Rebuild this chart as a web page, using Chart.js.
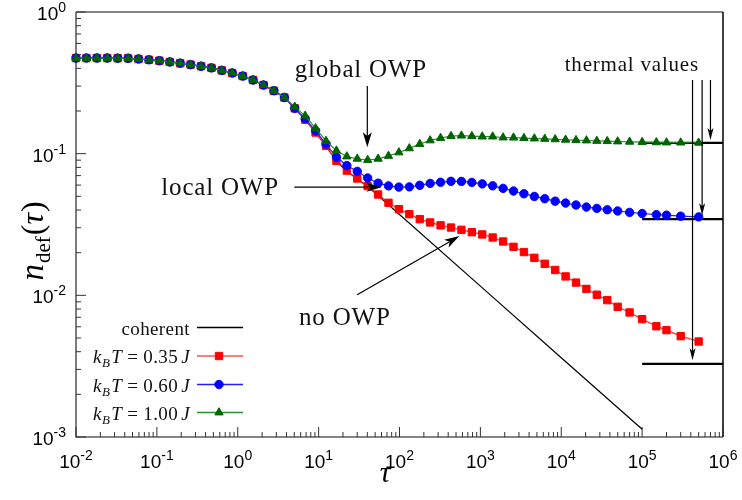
<!DOCTYPE html>
<html>
<head>
<meta charset="utf-8">
<script src="https://cdn.jsdelivr.net/npm/chart.js@4.4.1/dist/chart.umd.min.js"></script>
<style>
  html, body { margin: 0; padding: 0; background: #fff; }
  #wrap { width: 742px; height: 500px; }
</style>
</head>
<body>
<div id="wrap"><canvas id="c" width="742" height="500"></canvas></div>
<script>
// quench time grid
const tau = [0.01, 0.01345, 0.0181, 0.02434, 0.03275, 0.04406, 0.05928, 0.07975, 0.1073, 0.1443,
  0.1941, 0.2612, 0.3513, 0.4727, 0.6359, 0.8551, 1.150, 1.547, 2.082, 2.801,
  3.767, 5.068, 6.818, 9.172, 12.34, 16.60, 22.33, 30.04, 40.41, 54.36,
  73.11, 98.36, 132.3, 178.0, 239.4, 322.1, 433.4, 583.1, 784.4, 1055,
  1419, 1909, 2568, 3455, 4648, 6252, 8411, 11316, 15223, 20480,
  27542, 37050, 49840, 70000, 100000, 150000, 200000, 300000, 500000];

// defect density, kB T = 0.35 J
const nT035 = [0.473, 0.473, 0.473, 0.473, 0.472, 0.471, 0.466, 0.460, 0.453, 0.444,
  0.435, 0.425, 0.414, 0.403, 0.387, 0.371, 0.353, 0.331, 0.305, 0.278,
  0.249, 0.209, 0.174, 0.141, 0.1135, 0.0891, 0.0759, 0.0668, 0.0590, 0.0515,
  0.0450, 0.0406, 0.0374, 0.0345, 0.0327, 0.0312, 0.0301, 0.0290, 0.0279, 0.0269,
  0.0256, 0.0240, 0.0220, 0.0202, 0.0184, 0.0167, 0.0151, 0.0136, 0.0123, 0.0111,
  0.0101, 0.00925, 0.00830, 0.00757, 0.00679, 0.00605, 0.00568, 0.00515, 0.00472];

// defect density, kB T = 0.60 J
const nT060 = [0.473, 0.473, 0.473, 0.473, 0.472, 0.471, 0.466, 0.460, 0.453, 0.444,
  0.435, 0.425, 0.414, 0.403, 0.387, 0.371, 0.353, 0.331, 0.305, 0.278,
  0.249, 0.209, 0.176, 0.145, 0.117, 0.0946, 0.0824, 0.0750, 0.0673, 0.0619,
  0.0592, 0.0581, 0.0583, 0.0598, 0.0617, 0.0628, 0.0638, 0.0637, 0.0627, 0.0612,
  0.0593, 0.0569, 0.0545, 0.0521, 0.0499, 0.0481, 0.0462, 0.0448, 0.0434, 0.0420,
  0.0411, 0.0402, 0.0394, 0.0385, 0.0378, 0.0371, 0.0368, 0.0362, 0.0358];

// defect density, kB T = 1.00 J
const nT100 = [0.473, 0.473, 0.473, 0.473, 0.472, 0.471, 0.466, 0.460, 0.453, 0.444,
  0.435, 0.425, 0.414, 0.403, 0.387, 0.371, 0.353, 0.331, 0.305, 0.278,
  0.249, 0.214, 0.185, 0.151, 0.123, 0.105, 0.0955, 0.0920, 0.0902, 0.0920,
  0.0964, 0.102, 0.109, 0.117, 0.124, 0.129, 0.133, 0.134, 0.133, 0.132,
  0.132, 0.130, 0.1297, 0.1288, 0.1279, 0.1271, 0.1262, 0.1253, 0.1245, 0.1239,
  0.1230, 0.1225, 0.1219, 0.1213, 0.1208, 0.1202, 0.1199, 0.1197, 0.1194];

// coherent (zero temperature) evolution
const tauCoherent = [0.01, 0.01345, 0.0181, 0.02434, 0.03275, 0.04406, 0.05928, 0.07975, 0.1073, 0.1443,
  0.1941, 0.2612, 0.3513, 0.4727, 0.6359, 0.8551, 1.150, 1.547, 2.082, 2.801,
  3.767, 5.068, 6.818, 9.172, 12.34, 16.60, 22.33, 30.04, 40.41, 54.36,
  73.11, 1000, 10000, 100000];
const nCoherent = [0.473, 0.473, 0.473, 0.473, 0.472, 0.471, 0.466, 0.460, 0.453, 0.444,
  0.435, 0.425, 0.414, 0.403, 0.387, 0.371, 0.353, 0.331, 0.305, 0.278,
  0.249, 0.209, 0.174, 0.141, 0.1135, 0.0881, 0.0750, 0.0661, 0.0586, 0.0506,
  0.0436, 0.01161, 0.00363, 0.001135];

// thermal equilibrium values (0.35 J, 0.60 J, 1.00 J)
const thermalTau = [1e5, 1e6];
const thermalN = [0.00328, 0.0345, 0.119];

const temperatures = ['0.35', '0.60', '1.00'];
const xTickExps = [-2, -1, 0, 1, 2, 3, 4, 5, 6];
const yTickExps = [-3, -2, -1, 0];

const SERIF = '"Liberation Serif", "DejaVu Serif", serif';
const SANS = '"Liberation Sans", Arial, sans-serif';

const pts = (xs, ys) => xs.map((v, i) => ({ x: v, y: ys[i] }));

// ---- rich text helpers -------------------------------------------------
function runsWidth(ctx, runs) {
  let w = 0;
  for (const r of runs) { ctx.font = r.font; w += ctx.measureText(r.text).width + (r.gap || 0); }
  return w;
}
function drawRuns(ctx, runs, x, y, align) {
  const w = runsWidth(ctx, runs);
  let cx = align === 'right' ? x - w : align === 'center' ? x - w / 2 : x;
  ctx.textAlign = 'left';
  ctx.textBaseline = 'alphabetic';
  for (const r of runs) {
    ctx.font = r.font;
    ctx.fillText(r.text, cx, y + (r.dy || 0));
    cx += ctx.measureText(r.text).width + (r.gap || 0);
  }
}
function powRuns(e) {
  return [
    { text: '10', font: `19px ${SANS}` },
    { text: String(e), font: `14px ${SANS}`, dy: -8 }
  ];
}
function kbtRuns(val) {
  const f = 19;
  return [
    { text: 'k', font: `italic ${f}px ${SERIF}` },
    { text: 'B', font: `italic 13px ${SERIF}`, dy: 4, gap: 1 },
    { text: 'T', font: `italic ${f}px ${SERIF}`, gap: 5 },
    { text: '=', font: `${f}px ${SERIF}`, gap: 5 },
    { text: val, font: `${f}px ${SERIF}`, gap: 3 },
    { text: 'J', font: `italic ${f}px ${SERIF}` }
  ];
}

function drawArrow(ctx, x1, y1, x2, y2, L, W) {
  const ang = Math.atan2(y2 - y1, x2 - x1);
  const ux = Math.cos(ang), uy = Math.sin(ang), nx = -uy, ny = ux;
  const N = L * 0.25;
  ctx.strokeStyle = '#000';
  ctx.fillStyle = '#000';
  ctx.lineWidth = 1.2;
  ctx.beginPath();
  ctx.moveTo(x1, y1);
  ctx.lineTo(x2 - ux * (L - N), y2 - uy * (L - N));
  ctx.stroke();
  ctx.beginPath();
  ctx.moveTo(x2, y2);
  ctx.lineTo(x2 - ux * L + nx * W, y2 - uy * L + ny * W);
  ctx.lineTo(x2 - ux * (L - N), y2 - uy * (L - N));
  ctx.lineTo(x2 - ux * L - nx * W, y2 - uy * L - ny * W);
  ctx.closePath();
  ctx.fill();
}

// ---- frame, inward ticks and tick labels -------------------------------
const framePlugin = {
  id: 'frame',
  beforeDatasetsDraw(chart) {
    const { ctx, chartArea: a, scales: { x, y } } = chart;
    ctx.save();
    ctx.lineWidth = 1.6;
    ctx.strokeStyle = '#5c5c5c';
    ctx.beginPath();
    ctx.moveTo(a.left, a.top); ctx.lineTo(a.right, a.top);
    ctx.moveTo(a.left, a.top); ctx.lineTo(a.left, a.bottom); ctx.lineTo(a.right, a.bottom);
    ctx.stroke();
    ctx.strokeStyle = '#111';
    ctx.beginPath();
    ctx.moveTo(a.right, a.top); ctx.lineTo(a.right, a.bottom);
    ctx.stroke();

    ctx.strokeStyle = '#333';
    ctx.lineWidth = 1;
    ctx.beginPath();
    for (let i = 0; i < xTickExps.length; i++) {
      const e = xTickExps[i];
      const px = x.getPixelForValue(Math.pow(10, e));
      ctx.moveTo(px, a.bottom); ctx.lineTo(px, a.bottom - 10);
      if (i < xTickExps.length - 1) {
        for (let m = 2; m <= 9; m++) {
          const q = x.getPixelForValue(m * Math.pow(10, e));
          ctx.moveTo(q, a.bottom); ctx.lineTo(q, a.bottom - 5);
        }
      }
    }
    for (let i = 0; i < yTickExps.length; i++) {
      const e = yTickExps[i];
      const py = y.getPixelForValue(Math.pow(10, e));
      ctx.moveTo(a.left, py); ctx.lineTo(a.left + 10, py);
      if (i < yTickExps.length - 1) {
        for (let m = 2; m <= 9; m++) {
          const q = y.getPixelForValue(m * Math.pow(10, e));
          ctx.moveTo(a.left, q); ctx.lineTo(a.left + 5, q);
        }
      }
    }
    ctx.stroke();
    ctx.restore();
  },
  afterDraw(chart) {
    const { ctx, chartArea: a, scales: { x, y } } = chart;
    ctx.save();
    ctx.fillStyle = '#000';
    for (const e of xTickExps) {
      drawRuns(ctx, powRuns(e), x.getPixelForValue(Math.pow(10, e)), a.bottom + 31, 'center');
    }
    for (const e of yTickExps) {
      drawRuns(ctx, powRuns(e), a.left - 10, y.getPixelForValue(Math.pow(10, e)) + 8, 'right');
    }
    // axis titles
    drawRuns(ctx, [{ text: '\u03C4', font: `italic 30px ${SERIF}` }], 385, 482, 'center');
    ctx.translate(43, 241);
    ctx.rotate(-Math.PI / 2);
    drawRuns(ctx, [
      { text: 'n', font: `italic 33px ${SERIF}`, gap: 1 },
      { text: 'def', font: `21px ${SERIF}`, dy: 7, gap: 1 },
      { text: '(', font: `32px ${SERIF}` },
      { text: '\u03C4', font: `italic 32px ${SERIF}`, gap: 1 },
      { text: ')', font: `32px ${SERIF}` }
    ], 0, 0, 'center');
    ctx.restore();
  }
};

// ---- annotations -------------------------------------------------------
const notes = [
  { text: 'global OWP', x: 33.3, y: 0.3475, align: 'center', size: 25 },
  { text: 'local OWP', x: 3.23, y: 0.0510, align: 'right', size: 25 },
  { text: 'no OWP', x: 21.1, y: 0.00616, align: 'center', size: 25 },
  { text: 'thermal values', x: 7.46e4, y: 0.383, align: 'center', size: 21 }
];
const arrows = [
  { from: [40, 0.30], to: [40, 0.111], L: 15, W: 4.5 },
  { from: [5, 0.058], to: [60, 0.058], L: 15, W: 4.5 },
  { from: [30, 0.0101], to: [550, 0.0262], L: 15, W: 4.5 },
  { from: [4.2e5, 0.331], to: [4.2e5, 0.00348], L: 12, W: 3 },
  { from: [5.52e5, 0.331], to: [5.52e5, 0.0368], L: 12, W: 3 },
  { from: [7.0e5, 0.331], to: [7.0e5, 0.1247], L: 12, W: 3 }
];

const notesPlugin = {
  id: 'notes',
  afterDatasetsDraw(chart) {
    const { ctx, scales: { x, y } } = chart;
    ctx.save();
    ctx.fillStyle = '#111';
    ctx.textBaseline = 'alphabetic';
    for (const n of notes) {
      ctx.font = `${n.size}px ${SERIF}`;
      ctx.letterSpacing = '0.8px';
      ctx.textAlign = n.align;
      ctx.fillText(n.text, x.getPixelForValue(n.x), y.getPixelForValue(n.y));
    }
    ctx.letterSpacing = '0px';
    for (const ar of arrows) {
      drawArrow(ctx,
        x.getPixelForValue(ar.from[0]), y.getPixelForValue(ar.from[1]),
        x.getPixelForValue(ar.to[0]), y.getPixelForValue(ar.to[1]), ar.L, ar.W);
    }
    ctx.restore();
  }
};

// ---- key in the lower left ----------------------------------------------
const keyEntries = [
  { runs: [{ text: 'coherent', font: `19px ${SERIF}` }], line: '#000', marker: null },
  { runs: kbtRuns(temperatures[0]), line: '#ff5050', marker: 'rect', color: '#ff0000' },
  { runs: kbtRuns(temperatures[1]), line: '#2020ff', marker: 'circle', color: '#0000ff' },
  { runs: kbtRuns(temperatures[2]), line: '#2e8b2e', marker: 'triangle', color: '#006400' }
];
const keyPlugin = {
  id: 'key',
  afterDraw(chart) {
    const { ctx } = chart;
    ctx.save();
    ctx.letterSpacing = '0.4px';
    const rows = [327.5, 356, 384.5, 412.5];
    keyEntries.forEach((k, i) => {
      const yy = rows[i];
      ctx.fillStyle = '#111';
      drawRuns(ctx, k.runs, 190, yy + 7, 'right');
      ctx.strokeStyle = k.line;
      ctx.lineWidth = 1.3;
      ctx.beginPath(); ctx.moveTo(197, yy); ctx.lineTo(243, yy); ctx.stroke();
      if (k.marker) {
        ctx.fillStyle = k.color;
        ctx.strokeStyle = k.color;
        ctx.lineWidth = 1;
        const r = k.marker === 'rect' ? 5.2 : k.marker === 'circle' ? 4.2 : 4.8;
        Chart.helpers.drawPoint(ctx, { pointStyle: k.marker, radius: r, borderWidth: 1, rotation: 0 }, 219, yy);
      }
    });
    ctx.restore();
  }
};

new Chart(document.getElementById('c').getContext('2d'), {
  type: 'line',
  data: {
    datasets: [
      {
        label: 'kBT = 1.00 J', data: pts(tau, nT100), order: 0, clip: false,
        borderColor: '#2e8b2e', borderWidth: 1.2,
        pointStyle: 'triangle', pointRadius: 4.8, pointBackgroundColor: '#006400',
        pointBorderColor: '#006400', pointBorderWidth: 1
      },
      {
        label: 'kBT = 0.60 J', data: pts(tau, nT060), order: 1, clip: false,
        borderColor: '#2020ff', borderWidth: 1.2,
        pointStyle: 'circle', pointRadius: 4.2, pointBackgroundColor: '#0000ff',
        pointBorderColor: '#0000ff', pointBorderWidth: 1
      },
      {
        label: 'kBT = 0.35 J', data: pts(tau, nT035), order: 2, clip: false,
        borderColor: '#ff3030', borderWidth: 1.2,
        pointStyle: 'rect', pointRadius: 5.2, pointBackgroundColor: '#ff0000',
        pointBorderColor: '#ff0000', pointBorderWidth: 1
      },
      {
        label: 'coherent', data: pts(tauCoherent, nCoherent), order: 3, clip: false,
        borderColor: '#000', borderWidth: 1.2, pointRadius: 0
      },
      ...thermalN.map((v, i) => ({
        label: 'thermal ' + temperatures[i], data: pts(thermalTau, [v, v]), order: 4, clip: false,
        borderColor: '#000', borderWidth: 2.2, pointRadius: 0
      }))
    ]
  },
  options: {
    responsive: false,
    animation: false,
    devicePixelRatio: 1,
    layout: { padding: { left: 76, right: 19, top: 12, bottom: 63 } },
    plugins: { legend: { display: false }, tooltip: { enabled: false } },
    elements: { line: { tension: 0 } },
    scales: {
      x: { type: 'logarithmic', min: 0.01, max: 1e6, display: false },
      y: { type: 'logarithmic', min: 0.001, max: 1, display: false }
    }
  },
  plugins: [framePlugin, notesPlugin, keyPlugin]
});
</script>
</body>
</html>
